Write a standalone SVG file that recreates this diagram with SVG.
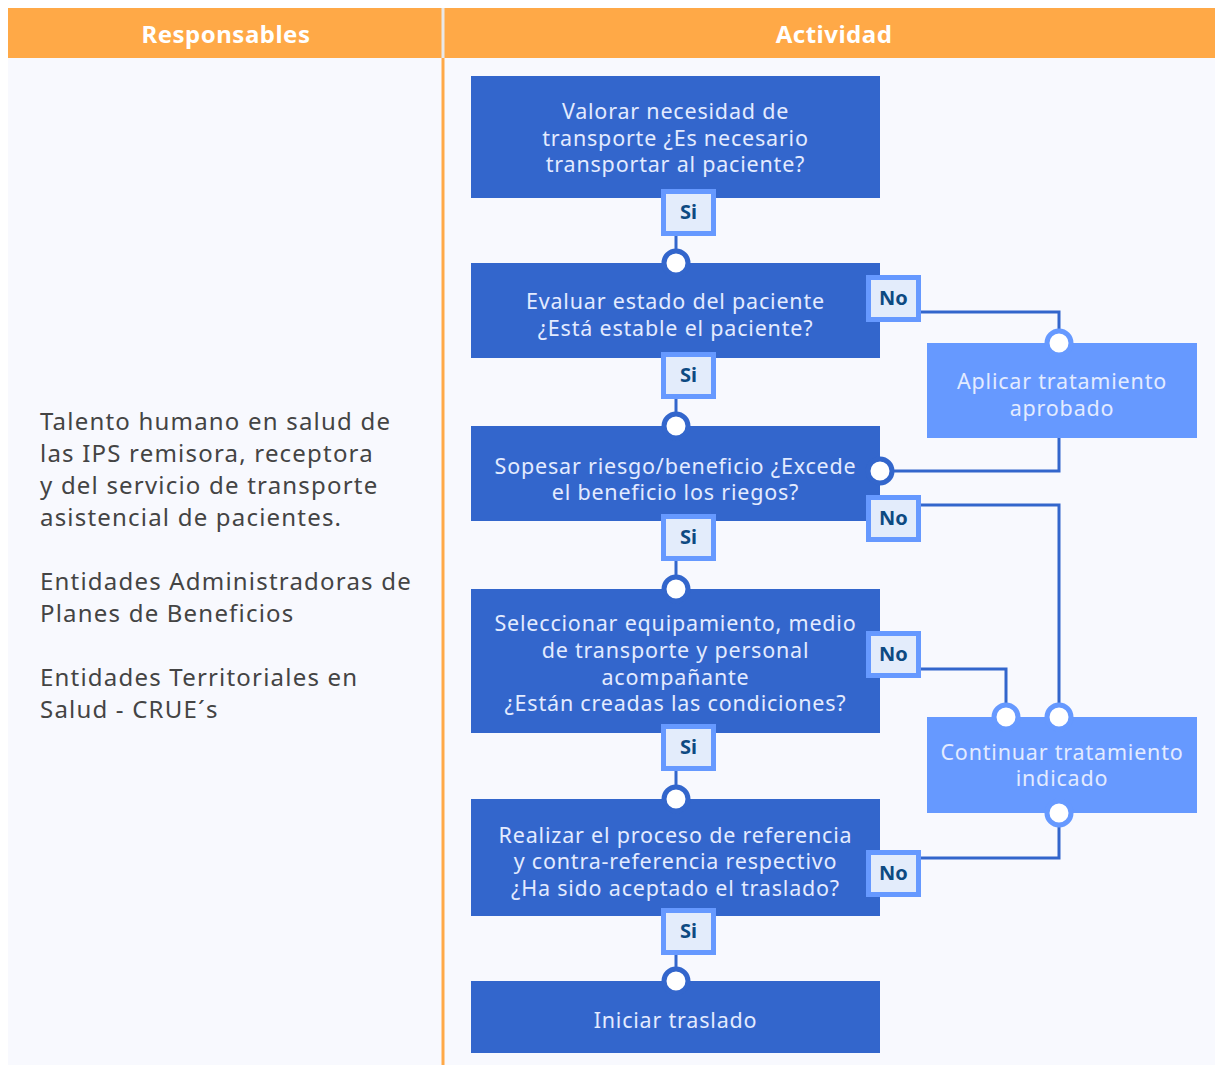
<svg xmlns="http://www.w3.org/2000/svg" width="1215" height="1065" viewBox="0 0 1215 1065">
<style>
.hdr{fill:#ffa947}
.htx{font-family:"Noto Sans",sans-serif;font-weight:700;font-size:24px;letter-spacing:0.5px;fill:#fff;text-anchor:middle}
.main{fill:#3366cc}
.alt{fill:#6699ff}
.btx{font-family:"Noto Sans",sans-serif;font-size:21.5px;letter-spacing:0.8px;fill:#e3ebff;text-anchor:middle}
.ltx{font-family:"Noto Sans",sans-serif;font-size:24px;letter-spacing:1.2px;fill:#444}
.lbl{fill:#e3ecfb;stroke:#6699ff;stroke-width:5}
.ltxt{font-family:"Noto Sans",sans-serif;font-weight:700;font-size:20px;fill:#0d4a82;text-anchor:middle}
.con{fill:none;stroke:#3366cc;stroke-width:3}
.dot{fill:#fff;stroke:#3366cc;stroke-width:5}
.dot2{fill:#fff;stroke:#6699ff;stroke-width:5}
</style>
<rect x="0" y="0" width="1215" height="1065" fill="#fff"/>
<rect x="8" y="58" width="1207" height="1007" fill="#f8f9fe"/>
<g id="header">
<rect class="hdr" x="8" y="8" width="1207" height="50"/>
<line x1="443" y1="8" x2="443" y2="58" stroke="#e8e8e8" stroke-width="3"/>
<line x1="443" y1="58" x2="443" y2="1065" stroke="#ffa947" stroke-width="3"/>
<text class="htx" x="226" y="43">Responsables</text>
<text class="htx" x="834" y="43">Actividad</text>
</g>
<g id="responsables">
<text class="ltx" x="40" y="430">Talento humano en salud de</text>
<text class="ltx" x="40" y="462">las IPS remisora, receptora</text>
<text class="ltx" x="40" y="494">y del servicio de transporte</text>
<text class="ltx" x="40" y="526">asistencial de pacientes.</text>
<text class="ltx" x="40" y="590">Entidades Administradoras de</text>
<text class="ltx" x="40" y="622">Planes de Beneficios</text>
<text class="ltx" x="40" y="686">Entidades Territoriales en</text>
<text class="ltx" x="40" y="718">Salud - CRUE´s</text>
</g>
<g id="connectors">
<line class="con" x1="676" y1="230" x2="676" y2="263"/>
<line class="con" x1="676" y1="395" x2="676" y2="426"/>
<line class="con" x1="676" y1="555" x2="676" y2="589"/>
<line class="con" x1="676" y1="765" x2="676" y2="799"/>
<line class="con" x1="676" y1="950" x2="676" y2="981"/>
<polyline class="con" points="918,312 1059,312 1059,343"/>
<polyline class="con" points="1059,438 1059,471 880,471"/>
<polyline class="con" points="918,505 1059,505 1059,717"/>
<polyline class="con" points="918,669 1006,669 1006,717"/>
<polyline class="con" points="1059,813 1059,858 918,858"/>
</g>
<g id="n1">
<rect class="main" x="471" y="76" width="409" height="122"/>
<text class="btx" x="675.5" y="119">Valorar necesidad de</text>
<text class="btx" x="675.5" y="146">transporte ¿Es necesario</text>
<text class="btx" x="675.5" y="172">transportar al paciente?</text>
</g>
<g id="n2">
<rect class="main" x="471" y="263" width="409" height="95"/>
<circle class="dot" cx="676" cy="263" r="12"/>
<text class="btx" x="675.5" y="309">Evaluar estado del paciente</text>
<text class="btx" x="675.5" y="336">¿Está estable el paciente?</text>
</g>
<g id="n3">
<rect class="main" x="471" y="426" width="409" height="95"/>
<circle class="dot" cx="676" cy="426" r="12"/>
<circle class="dot" cx="880" cy="471" r="12"/>
<text class="btx" x="675.5" y="474">Sopesar riesgo/beneficio ¿Excede</text>
<text class="btx" x="675.5" y="500">el beneficio los riegos?</text>
</g>
<g id="n4">
<rect class="main" x="471" y="589" width="409" height="144"/>
<circle class="dot" cx="676" cy="589" r="12"/>
<text class="btx" x="675.5" y="631">Seleccionar equipamiento, medio</text>
<text class="btx" x="675.5" y="658">de transporte y personal</text>
<text class="btx" x="675.5" y="685">acompañante</text>
<text class="btx" x="675.5" y="711">¿Están creadas las condiciones?</text>
</g>
<g id="n5">
<rect class="main" x="471" y="799" width="409" height="117"/>
<circle class="dot" cx="676" cy="799" r="12"/>
<text class="btx" x="675.5" y="843">Realizar el proceso de referencia</text>
<text class="btx" x="675.5" y="869">y contra-referencia respectivo</text>
<text class="btx" x="675.5" y="896">¿Ha sido aceptado el traslado?</text>
</g>
<g id="n6">
<rect class="main" x="471" y="981" width="409" height="72"/>
<circle class="dot" cx="676" cy="981" r="12"/>
<text class="btx" x="675.5" y="1028">Iniciar traslado</text>
</g>
<g id="aplicar">
<rect class="alt" x="927" y="343" width="270" height="95"/>
<circle class="dot2" cx="1059" cy="343" r="12"/>
<text class="btx" x="1062" y="389">Aplicar tratamiento</text>
<text class="btx" x="1062" y="416">aprobado</text>
</g>
<g id="continuar">
<rect class="alt" x="927" y="717" width="270" height="96"/>
<circle class="dot2" cx="1006" cy="717" r="12"/>
<circle class="dot2" cx="1059" cy="717" r="12"/>
<circle class="dot2" cx="1059" cy="813" r="12"/>
<text class="btx" x="1062" y="760">Continuar tratamiento</text>
<text class="btx" x="1062" y="786">indicado</text>
</g>
<g id="labels">
<g id="si1"><rect class="lbl" x="663.5" y="191.5" width="50" height="42"/><text class="ltxt" x="688.5" y="219">Si</text></g>
<g id="si2"><rect class="lbl" x="663.5" y="354.5" width="50" height="42"/><text class="ltxt" x="688.5" y="382">Si</text></g>
<g id="si3"><rect class="lbl" x="663.5" y="516.5" width="50" height="42"/><text class="ltxt" x="688.5" y="544">Si</text></g>
<g id="si4"><rect class="lbl" x="663.5" y="726.5" width="50" height="42"/><text class="ltxt" x="688.5" y="754">Si</text></g>
<g id="si5"><rect class="lbl" x="663.5" y="910.5" width="50" height="42"/><text class="ltxt" x="688.5" y="938">Si</text></g>
<g id="no1"><rect class="lbl" x="868.5" y="277.5" width="50" height="42"/><text class="ltxt" x="893.5" y="305">No</text></g>
<g id="no2"><rect class="lbl" x="868.5" y="497.5" width="50" height="42"/><text class="ltxt" x="893.5" y="525">No</text></g>
<g id="no3"><rect class="lbl" x="868.5" y="633.5" width="50" height="42"/><text class="ltxt" x="893.5" y="661">No</text></g>
<g id="no4"><rect class="lbl" x="868.5" y="852.5" width="50" height="42"/><text class="ltxt" x="893.5" y="880">No</text></g>
</g>
</svg>
